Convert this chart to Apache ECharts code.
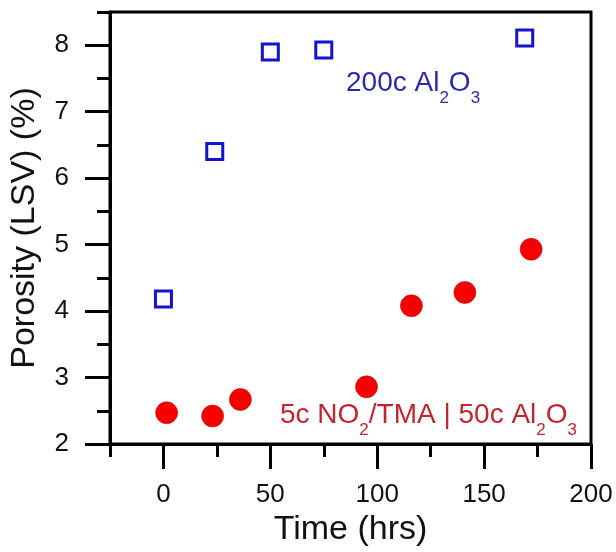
<!DOCTYPE html>
<html>
<head>
<meta charset="utf-8">
<script src="https://cdn.jsdelivr.net/npm/echarts@6/dist/echarts.min.js"></script>
<style>
  html, body { margin: 0; padding: 0; background: #fff; }
  #chart { width: 616px; height: 552px; }
</style>
</head>
<body>
<div id="chart"></div>
<script>
// 200c Al2O3 (open blue squares)
const timeBlue = [0, 24, 50, 75, 169];
const porosityBlue = [4.18, 6.40, 7.90, 7.93, 8.11];
// 5c NO2/TMA | 50c Al2O3 (red dots)
const timeRed = [1.5, 23, 36, 95, 116, 141, 172];
const porosityRed = [2.47, 2.42, 2.67, 2.86, 4.08, 4.28, 4.93];

const xMajor = [0, 50, 100, 150, 200];
const xMinor = [-25, 25, 75, 125, 175];
const yMajor = [2, 3, 4, 5, 6, 7, 8];
const yMinor = [2.5, 3.5, 4.5, 5.5, 6.5, 7.5, 8.5];

const labelFont = 'Liberation Sans, Arial, sans-serif';

let myChart = echarts.init(document.getElementById('chart'));

const xBase = { type: 'value', min: -25, max: 200, position: 'bottom', splitLine: { show: false } };
const yBase = { type: 'value', min: 2, max: 8.5, position: 'left', splitLine: { show: false } };

myChart.setOption({
    animation: false,
    grid: {
        left: 108, right: 25, top: 12, bottom: 108,
        show: true, borderColor: '#000', borderWidth: 3
    },
    xAxis: [
        Object.assign({}, xBase, {
            name: 'Time (hrs)',
            nameLocation: 'middle',
            nameGap: 66,
            nameTextStyle: { fontSize: 34, color: '#111', fontFamily: labelFont },
            axisLine: { onZero: false, lineStyle: { color: '#000', width: 3 } },
            axisTick: { customValues: xMajor, length: 25, lineStyle: { width: 3, color: '#000' } },
            axisLabel: { customValues: xMajor, margin: 38, fontSize: 26, color: '#111', fontFamily: labelFont, showMaxLabel: true }
        }),
        Object.assign({}, xBase, {
            axisLine: { show: false, onZero: false },
            axisTick: { customValues: xMinor, length: 13, lineStyle: { width: 3, color: '#000' } },
            axisLabel: { show: false }
        })
    ],
    yAxis: [
        Object.assign({}, yBase, {
            name: 'Porosity (LSV) (%)',
            nameLocation: 'middle',
            nameGap: 68,
            nameTextStyle: { fontSize: 34, color: '#111', fontFamily: labelFont },
            axisLine: { onZero: false, lineStyle: { color: '#000', width: 3 } },
            axisTick: { customValues: yMajor, length: 25, lineStyle: { width: 3, color: '#000' } },
            axisLabel: { customValues: yMajor, margin: 41, fontSize: 26, color: '#111', fontFamily: labelFont }
        }),
        Object.assign({}, yBase, {
            axisLine: { show: false, onZero: false },
            axisTick: { customValues: yMinor, length: 13, lineStyle: { width: 3, color: '#000' } },
            axisLabel: { show: false }
        })
    ],
    series: [
        {
            type: 'scatter',
            data: timeBlue.map((t, i) => [t, porosityBlue[i]]),
            symbol: 'rect',
            symbolSize: 16,
            itemStyle: { color: '#fbfbff', borderColor: '#1414c8', borderWidth: 3, opacity: 1 }
        },
        {
            type: 'scatter',
            data: timeRed.map((t, i) => [t, porosityRed[i]]),
            symbol: 'circle',
            symbolSize: 22,
            itemStyle: { color: '#f80000', borderColor: '#b01010', borderWidth: 0.6, opacity: 1 }
        }
    ],
    graphic: [
        {
            type: 'text', left: 346, top: 69,
            style: {
                text: '{n|200c Al}{s|2}{n|O}{s|3}',
                rich: {
                    n: { fontSize: 28, fill: '#2a2aae', fontFamily: labelFont, lineHeight: 38, verticalAlign: 'top' },
                    s: { fontSize: 17, fill: '#2a2aae', fontFamily: labelFont, lineHeight: 38, verticalAlign: 'bottom' }
                }
            }
        },
        {
            type: 'text', left: 280, top: 401,
            style: {
                text: '{n|5c NO}{s|2}{n|/TMA | 50c Al}{s|2}{n|O}{s|3}',
                rich: {
                    n: { fontSize: 28, fill: '#c4242c', fontFamily: labelFont, lineHeight: 38, verticalAlign: 'top' },
                    s: { fontSize: 17, fill: '#c4242c', fontFamily: labelFont, lineHeight: 38, verticalAlign: 'bottom' }
                }
            }
        }
    ]
});
</script>
</body>
</html>
